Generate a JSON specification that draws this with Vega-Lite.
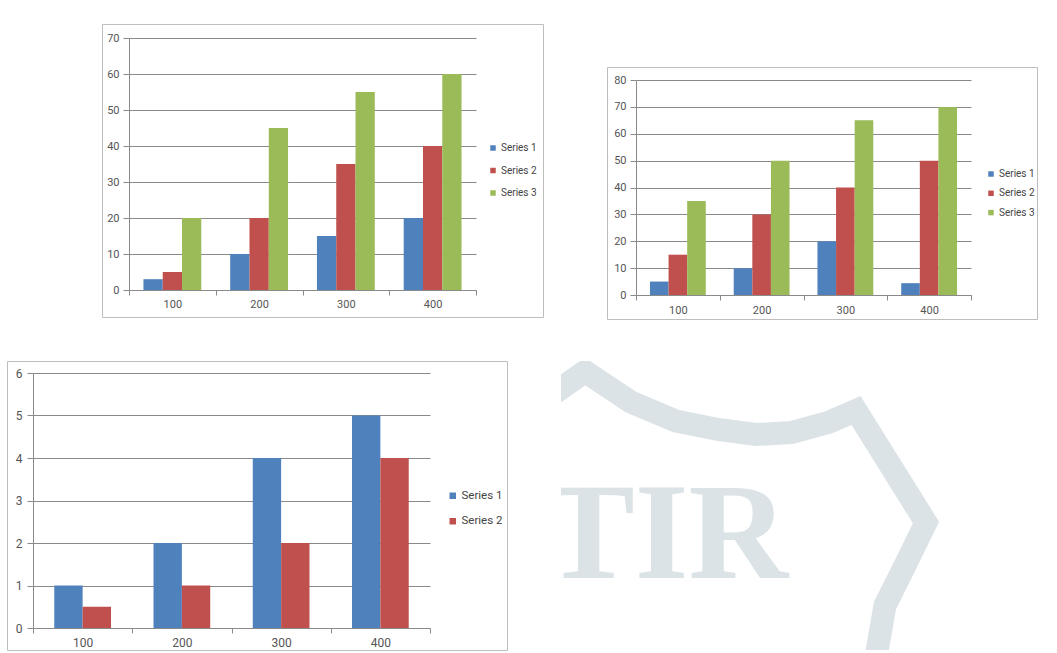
{
  "$schema": "https://vega.github.io/schema/vega-lite/v6.json",
  "padding": {"left": 0, "top": 23, "right": 0, "bottom": 0},
  "autosize": {"type": "pad"},
  "background": "white",
  "config": {
    "font": "Roboto",
    "view": {"stroke": "#bdbdbd", "strokeWidth": 1},
    "axis": {
      "labelFont": "Roboto",
      "labelColor": "#555555",
      "domainColor": "#8a8a8a",
      "tickColor": "#8a8a8a",
      "gridColor": "#8a8a8a",
      "gridOpacity": 1,
      "domainWidth": 1,
      "tickWidth": 1,
      "gridWidth": 1
    },
    "legend": {"labelFont": "Roboto", "labelColor": "#444444"}
  },
  "datasets": {
    "c1": [
      {"cat": "100", "series": "Series 1", "value": 3},
      {"cat": "100", "series": "Series 2", "value": 5},
      {"cat": "100", "series": "Series 3", "value": 20},
      {"cat": "200", "series": "Series 1", "value": 10},
      {"cat": "200", "series": "Series 2", "value": 20},
      {"cat": "200", "series": "Series 3", "value": 45},
      {"cat": "300", "series": "Series 1", "value": 15},
      {"cat": "300", "series": "Series 2", "value": 35},
      {"cat": "300", "series": "Series 3", "value": 55},
      {"cat": "400", "series": "Series 1", "value": 20},
      {"cat": "400", "series": "Series 2", "value": 40},
      {"cat": "400", "series": "Series 3", "value": 60}
    ],
    "c2": [
      {"cat": "100", "series": "Series 1", "value": 5},
      {"cat": "100", "series": "Series 2", "value": 15},
      {"cat": "100", "series": "Series 3", "value": 35},
      {"cat": "200", "series": "Series 1", "value": 10},
      {"cat": "200", "series": "Series 2", "value": 30},
      {"cat": "200", "series": "Series 3", "value": 50},
      {"cat": "300", "series": "Series 1", "value": 20},
      {"cat": "300", "series": "Series 2", "value": 40},
      {"cat": "300", "series": "Series 3", "value": 65},
      {"cat": "400", "series": "Series 1", "value": 4.4},
      {"cat": "400", "series": "Series 2", "value": 50},
      {"cat": "400", "series": "Series 3", "value": 70}
    ],
    "c3": [
      {"cat": "100", "series": "Series 1", "value": 1},
      {"cat": "100", "series": "Series 2", "value": 0.5},
      {"cat": "200", "series": "Series 1", "value": 2},
      {"cat": "200", "series": "Series 2", "value": 1},
      {"cat": "300", "series": "Series 1", "value": 4},
      {"cat": "300", "series": "Series 2", "value": 2},
      {"cat": "400", "series": "Series 1", "value": 5},
      {"cat": "400", "series": "Series 2", "value": 4}
    ]
  },
  "spacing": 40,
  "resolve": {"scale": {"color": "independent", "xOffset": "independent"}, "legend": {"color": "independent"}},
  "vconcat": [
    {
      "spacing": 0,
      "resolve": {"scale": {"color": "independent", "xOffset": "independent"}, "legend": {"color": "independent"}},
      "hconcat": [
        {"width": 100.5, "height": 1, "data": {"values": []}, "mark": "point", "view": {"stroke": null}},
        {
          "width": 441,
          "height": 293,
          "data": {"name": "c1"},
          "mark": {"type": "bar"},
          "encoding": {
            "x": {
              "field": "cat", "type": "nominal",
              "scale": {"range": [27, 374], "paddingInner": 0, "paddingOuter": 0},
              "axis": {"orient": "bottom", "offset": -27, "title": null, "labelAngle": 0, "tickBand": "extent", "tickSize": 5, "labelPadding": 3, "labelFontSize": 11, "grid": false}
            },
            "xOffset": {"field": "series", "type": "nominal", "scale": {"paddingOuter": 0.75, "paddingInner": 0}},
            "y": {
              "field": "value", "type": "quantitative",
              "scale": {"domain": [0, 70], "range": [266, 14], "nice": false},
              "axis": {"offset": -27, "title": null, "values": [0, 10, 20, 30, 40, 50, 60, 70], "grid": true, "tickSize": 6, "labelPadding": 4, "labelFontSize": 11}
            },
            "color": {
              "field": "series", "type": "nominal",
              "scale": {"domain": ["Series 1", "Series 2", "Series 3"], "range": ["#4F81BD", "#C0504D", "#9BBB59"]},
              "legend": {"orient": "none", "legendX": 386, "legendY": 119, "title": null, "symbolType": "square", "symbolSize": 30, "symbolStrokeWidth": 0, "labelFontSize": 10, "rowPadding": 12.5, "labelOffset": 3}
            }
          }
        },
        {"width": 61.5, "height": 1, "data": {"values": []}, "mark": "point", "view": {"stroke": null}},
        {
          "spacing": 0,
          "resolve": {"scale": {"color": "independent", "xOffset": "independent"}, "legend": {"color": "independent"}},
          "vconcat": [
            {"width": 1, "height": 41.5, "data": {"values": []}, "mark": "point", "view": {"stroke": null}},
            {
              "width": 430,
              "height": 252,
              "data": {"name": "c2"},
              "mark": {"type": "bar"},
              "encoding": {
                "x": {
                  "field": "cat", "type": "nominal",
                  "scale": {"range": [29, 364], "paddingInner": 0, "paddingOuter": 0},
                  "axis": {"orient": "bottom", "offset": -24, "title": null, "labelAngle": 0, "tickBand": "extent", "tickSize": 5, "labelPadding": 4, "labelFontSize": 11, "grid": false}
                },
                "xOffset": {"field": "series", "type": "nominal", "scale": {"paddingOuter": 0.75, "paddingInner": 0}},
                "y": {
                  "field": "value", "type": "quantitative",
                  "scale": {"domain": [0, 80], "range": [228, 13], "nice": false},
                  "axis": {"offset": -29, "title": null, "values": [0, 10, 20, 30, 40, 50, 60, 70, 80], "grid": true, "tickSize": 6, "labelPadding": 4, "labelFontSize": 11}
                },
                "color": {
                  "field": "series", "type": "nominal",
                  "scale": {"domain": ["Series 1", "Series 2", "Series 3"], "range": ["#4F81BD", "#C0504D", "#9BBB59"]},
                  "legend": {"orient": "none", "legendX": 379, "legendY": 102, "title": null, "symbolType": "square", "symbolSize": 30, "symbolStrokeWidth": 0, "labelFontSize": 10, "rowPadding": 9.3, "labelOffset": 3}
                }
              }
            }
          ]
        }
      ]
    },
    {
      "spacing": 0,
      "resolve": {"scale": {"color": "independent", "xOffset": "independent"}, "legend": {"color": "independent"}},
      "hconcat": [
        {"width": 6, "height": 1, "data": {"values": []}, "mark": "point", "view": {"stroke": null}},
        {
          "width": 500,
          "height": 289,
          "data": {"name": "c3"},
          "mark": {"type": "bar"},
          "encoding": {
            "x": {
              "field": "cat", "type": "nominal",
              "scale": {"range": [26, 423], "paddingInner": 0, "paddingOuter": 0},
              "axis": {"orient": "bottom", "offset": -22, "title": null, "labelAngle": 0, "tickBand": "extent", "tickSize": 5, "labelPadding": 4, "labelFontSize": 12, "grid": false}
            },
            "xOffset": {"field": "series", "type": "nominal", "scale": {"paddingOuter": 0.75, "paddingInner": 0}},
            "y": {
              "field": "value", "type": "quantitative",
              "scale": {"domain": [0, 6], "range": [267, 12], "nice": false},
              "axis": {"offset": -26, "title": null, "values": [0, 1, 2, 3, 4, 5, 6], "grid": true, "tickSize": 6, "labelPadding": 5, "labelFontSize": 12}
            },
            "color": {
              "field": "series", "type": "nominal",
              "scale": {"domain": ["Series 1", "Series 2"], "range": ["#4F81BD", "#C0504D"]},
              "legend": {"orient": "none", "legendX": 440, "legendY": 129, "title": null, "symbolType": "square", "symbolSize": 42, "symbolStrokeWidth": 0, "labelFontSize": 11.5, "rowPadding": 12.5, "labelOffset": 3}
            }
          }
        },
        {"width": 53, "height": 1, "data": {"values": []}, "mark": "point", "view": {"stroke": null}},
        {
          "width": 497,
          "height": 289,
          "view": {"stroke": null},
          "data": {"values": [{"label": "TIR"}]},
          "layer": [
            {
              "mark": {
                "type": "point",
                "shape": "M-268.5,-103 L-224.5,-134 L-178.5,-103.5 L-133.5,-84.5 L-91.5,-76 L-53.5,-71 L-18.5,-73 L18.5,-83 L46.5,-95 L116.5,17 L95.5,60 L75.5,100 L67.5,146 L63.5,183",
                "size": 4,
                "filled": false,
                "color": "#dce3e7",
                "strokeWidth": 23,
                "strokeJoin": "miter",
                "opacity": 1,
                "clip": true
              },
              "encoding": {}
            },
            {
              "mark": {
                "type": "text",
                "font": "Liberation Serif",
                "fontWeight": "bold",
                "fontSize": 138,
                "color": "#dce3e7",
                "align": "center",
                "baseline": "alphabetic",
                "dx": -144,
                "dy": 72,
                "clip": true
              },
              "encoding": {"text": {"field": "label"}}
            }
          ]
        }
      ]
    }
  ]
}
